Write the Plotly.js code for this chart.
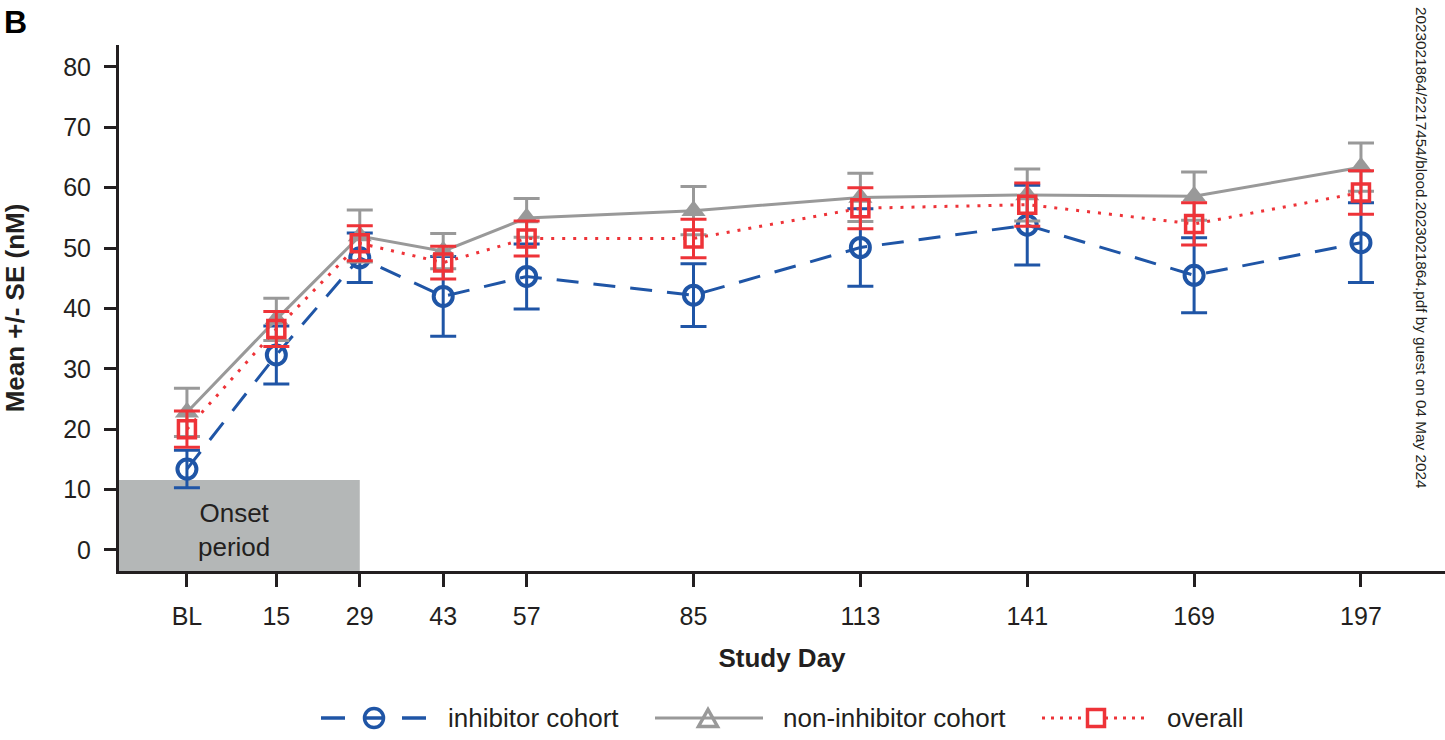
<!DOCTYPE html>
<html>
<head>
<meta charset="utf-8">
<script src="https://cdn.plot.ly/plotly-3.0.1.min.js"></script>
<style>
html,body{margin:0;padding:0;background:#fff;}
#chart{width:1445px;height:740px;}
</style>
</head>
<body>
<div id="chart"></div>
<script>
// ---- data ----
var days = [0, 15, 29, 43, 57, 85, 113, 141, 169, 197];
var tickLabels = ['BL', '15', '29', '43', '57', '85', '113', '141', '169', '197'];
var yTicks = [0, 10, 20, 30, 40, 50, 60, 70, 80];

var inhibitorMean = [13.4, 32.3, 48.4, 42.0, 45.3, 42.2, 50.1, 53.8, 45.5, 50.9];
var inhibitorSE   = [3.1, 4.8, 4.1, 6.6, 5.4, 5.2, 6.4, 6.6, 6.2, 6.6];

var nonInhibitorMean = [22.8, 38.2, 52.0, 49.5, 55.0, 56.2, 58.4, 58.8, 58.6, 63.4];
var nonInhibitorSE   = [4.0, 3.5, 4.3, 2.9, 3.2, 4.0, 4.0, 4.3, 4.0, 4.0];

var overallMean = [20.0, 36.6, 50.8, 47.6, 51.6, 51.6, 56.6, 57.2, 54.0, 59.2];
var overallSE   = [3.0, 2.9, 2.9, 2.7, 2.9, 3.2, 3.4, 3.6, 3.5, 3.6];

var seriesNames = ['inhibitor cohort', 'non-inhibitor cohort', 'overall'];
var onsetEndDay = 29;
var onsetTop = 11.6;

// ---- style ----
var BLUE = '#1f55a6', GRAY = '#999999', RED = '#ee3338', INK = '#231f20';
var FONT = 'Liberation Sans, Arial, Helvetica, sans-serif';

var L = 119, T = 45, W = 1445, H = 740, PW = 1326, PH = 526;
function px(p){ return (p - L) / PW; }
function py(p){ return (T + PH - p) / PH; }

var traces = [
  {
    x: days, y: inhibitorMean, name: seriesNames[0], type: 'scatter', mode: 'lines+markers',
    line: {color: BLUE, width: 3, dash: '22px,15px'},
    marker: {symbol: 'circle-open', size: 19, color: BLUE, line: {width: 4, color: BLUE}},
    error_y: {type: 'data', array: inhibitorSE, visible: true, color: BLUE, thickness: 3, width: 13}
  },
  {
    x: days, y: nonInhibitorMean, name: seriesNames[1], type: 'scatter', mode: 'lines+markers',
    line: {color: GRAY, width: 3},
    marker: {symbol: 'triangle-up', size: 21, color: GRAY},
    error_y: {type: 'data', array: nonInhibitorSE, visible: true, color: GRAY, thickness: 3, width: 13}
  },
  {
    x: days, y: overallMean, name: seriesNames[2], type: 'scatter', mode: 'lines+markers',
    line: {color: RED, width: 3, dash: '3px,8px'},
    marker: {symbol: 'square-open', size: 17, color: RED, line: {width: 3.5, color: RED}},
    error_y: {type: 'data', array: overallSE, visible: true, color: RED, thickness: 3, width: 13}
  }
];

// custom legend (keys drawn in paper space)
var LY = 718;
var shapes = [
  {type: 'rect', xref: 'x', x0: -20, x1: onsetEndDay, yref: 'y', y0: -10, y1: onsetTop,
   fillcolor: '#b4b7b7', line: {width: 0}, layer: 'below'}
];

function hline(x0, x1, color, dash, w){
  return {type: 'line', xref: 'paper', yref: 'paper', x0: px(x0), x1: px(x1), y0: py(LY), y1: py(LY),
          line: {color: color, width: w || 3.5, dash: dash || 'solid'}};
}
shapes.push(hline(321, 345, BLUE));
shapes.push(hline(402, 426, BLUE));
shapes.push(hline(364, 384, BLUE));
shapes.push({type: 'circle', xref: 'paper', yref: 'paper', x0: px(364.5), x1: px(383.5), y0: py(LY - 9.5), y1: py(LY + 9.5),
             line: {color: BLUE, width: 3.5}});
shapes.push(hline(655, 763, GRAY, 'solid', 3));
shapes.push({type: 'path', xref: 'paper', yref: 'paper',
  path: 'M' + px(698.5) + ',' + py(726.5) + ' L' + px(717.5) + ',' + py(726.5) + ' L' + px(708) + ',' + py(709.5) + ' Z',
  line: {color: GRAY, width: 3.5}});
shapes.push(hline(1042, 1147, RED, '3px,6px', 3));
shapes.push({type: 'rect', xref: 'paper', yref: 'paper', x0: px(1087.5), x1: px(1104.5), y0: py(LY - 8.5), y1: py(LY + 8.5),
             line: {color: RED, width: 3.5}, fillcolor: 'rgba(255,255,255,1)'});

var annotations = [
  {xref: 'paper', yref: 'paper', x: px(446), y: py(LY), xanchor: 'left', yanchor: 'middle', showarrow: false,
   text: seriesNames[0], font: {family: FONT, size: 26, color: INK}},
  {xref: 'paper', yref: 'paper', x: px(781), y: py(LY), xanchor: 'left', yanchor: 'middle', showarrow: false,
   text: seriesNames[1], font: {family: FONT, size: 26, color: INK}},
  {xref: 'paper', yref: 'paper', x: px(1165), y: py(LY), xanchor: 'left', yanchor: 'middle', showarrow: false,
   text: seriesNames[2], font: {family: FONT, size: 26, color: INK}},
  {xref: 'x', yref: 'y', x: 7.9, y: 3.3, showarrow: false, text: 'Onset<br>period',
   font: {family: FONT, size: 26, color: INK}},
  {xref: 'paper', yref: 'paper', x: px(15), y: py(22), xanchor: 'center', yanchor: 'middle', showarrow: false,
   text: '<b>B</b>', font: {family: FONT, size: 32, color: '#000'}},
  {xref: 'paper', yref: 'paper', x: px(1422), y: py(491), xanchor: 'center', yanchor: 'bottom', showarrow: false,
   textangle: 90, text: '2023021864/2217454/blood.2023021864.pdf by guest on 04 May 2024',
   font: {family: FONT, size: 15.3, color: INK}}
];

var layout = {
  width: W, height: H,
  margin: {l: L, r: 0, t: T, b: H - T - PH, pad: 0},
  paper_bgcolor: '#fff', plot_bgcolor: '#fff',
  showlegend: false,
  font: {family: FONT, color: INK},
  xaxis: {
    range: [-11.4, 211.1], tickmode: 'array', tickvals: days, ticktext: tickLabels,
    showgrid: false, zeroline: false, showline: true, linewidth: 3, linecolor: INK,
    ticks: 'outside', ticklen: 13, tickwidth: 3, tickcolor: INK, ticklabelstandoff: 8,
    tickfont: {family: FONT, size: 25, color: INK},
    title: {text: 'Study Day', standoff: 20, font: {family: FONT, size: 26, color: INK, weight: 'bold'}},
    fixedrange: true
  },
  yaxis: {
    range: [-3.48, 83.64], tickmode: 'array', tickvals: yTicks,
    showgrid: false, zeroline: false, showline: true, linewidth: 3, linecolor: INK,
    ticks: 'outside', ticklen: 12, tickwidth: 3, tickcolor: INK, ticklabelstandoff: 8,
    tickfont: {family: FONT, size: 25, color: INK},
    title: {text: 'Mean +/- SE (nM)', standoff: 38, font: {family: FONT, size: 26, color: INK, weight: 'bold'}},
    fixedrange: true
  },
  shapes: shapes,
  annotations: annotations
};

Plotly.newPlot('chart', traces, layout, {staticPlot: true, displayModeBar: false});
</script>
</body>
</html>
